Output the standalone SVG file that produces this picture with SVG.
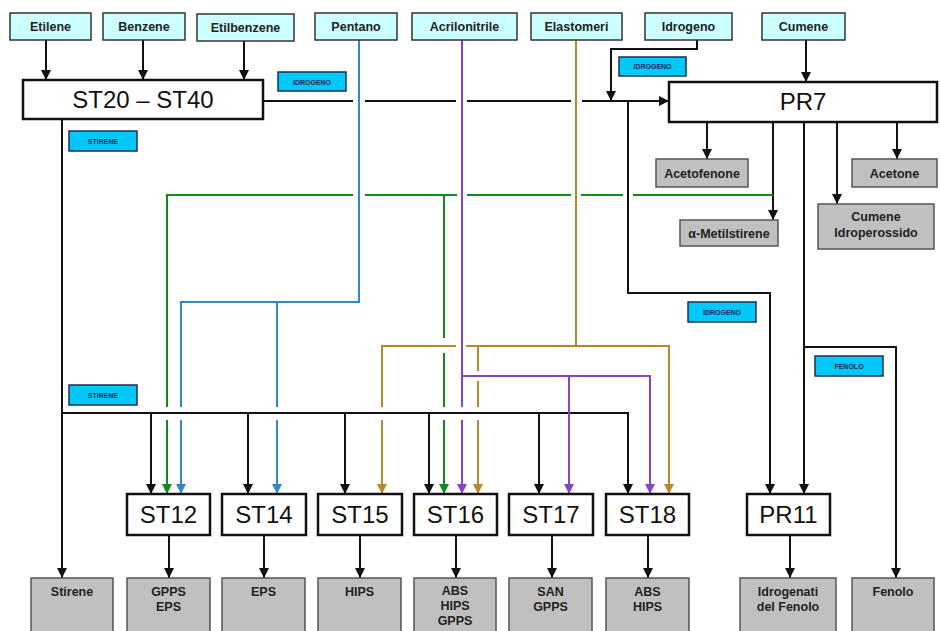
<svg xmlns="http://www.w3.org/2000/svg" width="940" height="631" viewBox="0 0 940 631">
<style>
.in{fill:#ccffff;stroke:#333;stroke-width:1.5}
.main{fill:#fff;stroke:#111;stroke-width:2.5}
.out{fill:#c0c0c0;stroke:#555;stroke-width:1.5}
.lab{fill:#00c8f8;stroke:#1a3050;stroke-width:1.5}
.t{font-family:"Liberation Sans",Arial,sans-serif;text-anchor:middle}
.tin{font-size:12.5px;font-weight:bold;fill:#222}
.tm{font-size:24px;fill:#111}
.tl{font-size:7px;font-weight:bold;fill:#1a2a5a}
.k{fill:none;stroke:#111;stroke-width:2}
.g{fill:none;stroke:#148a1e;stroke-width:2}
.b{fill:none;stroke:#2f88cc;stroke-width:2}
.p{fill:none;stroke:#8645c4;stroke-width:2}
.o{fill:none;stroke:#b8882e;stroke-width:2}
</style>
<defs>
<marker id="ak" viewBox="0 0 10 10" refX="10" refY="5" markerWidth="10" markerHeight="10" markerUnits="userSpaceOnUse" orient="auto"><path d="M0,0 L10,5 L0,10 z" fill="#111"/></marker>
<marker id="ag" viewBox="0 0 10 10" refX="10" refY="5" markerWidth="10" markerHeight="10" markerUnits="userSpaceOnUse" orient="auto"><path d="M0,0 L10,5 L0,10 z" fill="#148a1e"/></marker>
<marker id="ab" viewBox="0 0 10 10" refX="10" refY="5" markerWidth="10" markerHeight="10" markerUnits="userSpaceOnUse" orient="auto"><path d="M0,0 L10,5 L0,10 z" fill="#2f88cc"/></marker>
<marker id="ap" viewBox="0 0 10 10" refX="10" refY="5" markerWidth="10" markerHeight="10" markerUnits="userSpaceOnUse" orient="auto"><path d="M0,0 L10,5 L0,10 z" fill="#8645c4"/></marker>
<marker id="ao" viewBox="0 0 10 10" refX="10" refY="5" markerWidth="10" markerHeight="10" markerUnits="userSpaceOnUse" orient="auto"><path d="M0,0 L10,5 L0,10 z" fill="#b8882e"/></marker>
</defs>
<rect width="940" height="631" fill="#fff"/>

<g id="connectors">
<!-- black -->
<path class="k" marker-end="url(#ak)" d="M46,40 V80"/>
<path class="k" marker-end="url(#ak)" d="M143,40 V80"/>
<path class="k" marker-end="url(#ak)" d="M244,41 V80"/>
<path class="k" d="M263,101 H353 M365,101 H456 M467,101 H571"/>
<path class="k" marker-end="url(#ak)" d="M582,101 H669"/>
<path class="k" marker-end="url(#ak)" d="M697,40 V49 H611 V101"/>
<path class="k" marker-end="url(#ak)" d="M806,40 V82"/>
<path class="k" marker-end="url(#ak)" d="M628,101 V293 H770 V494"/>
<path class="k" marker-end="url(#ak)" d="M707,122 V159"/>
<path class="k" marker-end="url(#ak)" d="M773,122 V220"/>
<path class="k" marker-end="url(#ak)" d="M804,122 V494"/>
<path class="k" marker-end="url(#ak)" d="M837,122 V204"/>
<path class="k" marker-end="url(#ak)" d="M897,122 V159"/>
<path class="k" marker-end="url(#ak)" d="M804,347 H896 V578"/>
<path class="k" marker-end="url(#ak)" d="M62,119 V578"/>
<path class="k" marker-end="url(#ak)" d="M62,413 H628 V494"/>
<path class="k" marker-end="url(#ak)" d="M151,413 V494"/>
<path class="k" marker-end="url(#ak)" d="M248,413 V494"/>
<path class="k" marker-end="url(#ak)" d="M345,413 V494"/>
<path class="k" marker-end="url(#ak)" d="M429,413 V494"/>
<path class="k" marker-end="url(#ak)" d="M539,413 V494"/>
<path class="k" marker-end="url(#ak)" d="M169,535 V578"/>
<path class="k" marker-end="url(#ak)" d="M264,535 V578"/>
<path class="k" marker-end="url(#ak)" d="M360,535 V578"/>
<path class="k" marker-end="url(#ak)" d="M456,535 V578"/>
<path class="k" marker-end="url(#ak)" d="M552,535 V578"/>
<path class="k" marker-end="url(#ak)" d="M648,535 V578"/>
<path class="k" marker-end="url(#ak)" d="M790,535 V578"/>
<!-- green -->
<path class="g" d="M773,195 H633 M623,195 H581 M571,195 H467 M457,195 H365 M353,195 H167 V407"/>
<path class="g" marker-end="url(#ag)" d="M167,420 V494"/>
<path class="g" d="M444,195 V338 M444,353 V407"/>
<path class="g" marker-end="url(#ag)" d="M444,420 V494"/>
<!-- blue -->
<path class="b" d="M359,40 V302 H181 V407 M277,302 V407"/>
<path class="b" marker-end="url(#ab)" d="M181,420 V494"/>
<path class="b" marker-end="url(#ab)" d="M277,420 V494"/>
<!-- purple -->
<path class="p" d="M462,40 V407"/>
<path class="p" marker-end="url(#ap)" d="M462,420 V494"/>
<path class="p" marker-end="url(#ap)" d="M462,376 H650 V494"/>
<path class="p" marker-end="url(#ap)" d="M569,376 V494"/>
<!-- gold -->
<path class="o" d="M576,40 V346"/>
<path class="o" d="M456,346 H382 V407"/>
<path class="o" marker-end="url(#ao)" d="M382,420 V494"/>
<path class="o" marker-end="url(#ao)" d="M466,346 H669 V494"/>
<path class="o" d="M478,346 V371 M478,381 V407"/>
<path class="o" marker-end="url(#ao)" d="M478,420 V494"/>
</g>

<g id="labels">
<g id="lab-idrogeno1"><rect class="lab" x="278" y="72" width="68" height="19"/><text class="t tl" x="312" y="84.5">IDROGENO</text></g>
<g id="lab-stirene1"><rect class="lab" x="69" y="131" width="68" height="20"/><text class="t tl" x="103" y="143.5">STIRENE</text></g>
<g id="lab-idrogeno2"><rect class="lab" x="619" y="57" width="67" height="19"/><text class="t tl" x="652.5" y="69">IDROGENO</text></g>
<g id="lab-stirene2"><rect class="lab" x="69" y="385" width="68" height="20"/><text class="t tl" x="103" y="397.5">STIRENE</text></g>
<g id="lab-idrogeno3"><rect class="lab" x="688" y="302" width="68" height="20"/><text class="t tl" x="722" y="314.5">IDROGENO</text></g>
<g id="lab-fenolo"><rect class="lab" x="815" y="356" width="68" height="20"/><text class="t tl" x="849" y="368.5">FENOLO</text></g>
</g>

<g id="n-etilene"><rect class="in" x="10" y="13" width="81" height="27"/><text class="t tin" x="50.5" y="31">Etilene</text></g>
<g id="n-benzene"><rect class="in" x="103" y="13" width="82" height="27"/><text class="t tin" x="144" y="31">Benzene</text></g>
<g id="n-etilbenzene"><rect class="in" x="197" y="14" width="97" height="27"/><text class="t tin" x="245.5" y="32">Etilbenzene</text></g>
<g id="n-pentano"><rect class="in" x="315" y="13" width="82" height="27"/><text class="t tin" x="356" y="31">Pentano</text></g>
<g id="n-acrilonitrile"><rect class="in" x="412" y="13" width="105" height="27"/><text class="t tin" x="464.5" y="31">Acrilonitrile</text></g>
<g id="n-elastomeri"><rect class="in" x="531" y="13" width="91" height="27"/><text class="t tin" x="576.5" y="31">Elastomeri</text></g>
<g id="n-idrogeno"><rect class="in" x="645" y="13" width="87" height="27"/><text class="t tin" x="688.5" y="31">Idrogeno</text></g>
<g id="n-cumene"><rect class="in" x="762" y="13" width="83" height="27"/><text class="t tin" x="803.5" y="31">Cumene</text></g>

<g id="n-st20"><rect class="main" x="23" y="80" width="240" height="39"/><text class="t tm" x="143" y="108">ST20 – ST40</text></g>
<g id="n-pr7"><rect class="main" x="669" y="82" width="268" height="40"/><text class="t tm" x="803" y="110">PR7</text></g>

<g id="n-acetofenone"><rect class="out" x="656" y="159" width="92" height="28"/><text class="t tin" x="702" y="178">Acetofenone</text></g>
<g id="n-acetone"><rect class="out" x="852" y="159" width="85" height="28"/><text class="t tin" x="894.5" y="178">Acetone</text></g>
<g id="n-ams"><rect class="out" x="680" y="220" width="98" height="26"/><text class="t tin" x="729" y="238">α-Metilstirene</text></g>
<g id="n-cip"><rect class="out" x="818" y="204" width="116" height="45"/><text class="t tin" x="876" y="221">Cumene</text><text class="t tin" x="876" y="237">Idroperossido</text></g>

<g id="n-st12"><rect class="main" x="127" y="494" width="83" height="41"/><text class="t tm" x="168.5" y="523">ST12</text></g>
<g id="n-st14"><rect class="main" x="222" y="494" width="84" height="41"/><text class="t tm" x="264" y="523">ST14</text></g>
<g id="n-st15"><rect class="main" x="318" y="494" width="84" height="41"/><text class="t tm" x="360" y="523">ST15</text></g>
<g id="n-st16"><rect class="main" x="414" y="494" width="83" height="41"/><text class="t tm" x="455.5" y="523">ST16</text></g>
<g id="n-st17"><rect class="main" x="509" y="494" width="84" height="41"/><text class="t tm" x="551" y="523">ST17</text></g>
<g id="n-st18"><rect class="main" x="606" y="494" width="83" height="41"/><text class="t tm" x="647.5" y="523">ST18</text></g>
<g id="n-pr11"><rect class="main" x="747" y="494" width="83" height="41"/><text class="t tm" x="788.5" y="523">PR11</text></g>

<g id="o-stirene"><rect class="out" x="31" y="578" width="82" height="60"/><text class="t tin" x="72" y="596">Stirene</text></g>
<g id="o-st12"><rect class="out" x="127" y="578" width="83" height="60"/><text class="t tin" x="168.5" y="596">GPPS</text><text class="t tin" x="168.5" y="611">EPS</text></g>
<g id="o-st14"><rect class="out" x="222" y="578" width="83" height="60"/><text class="t tin" x="263.5" y="596">EPS</text></g>
<g id="o-st15"><rect class="out" x="318" y="578" width="83" height="60"/><text class="t tin" x="359.5" y="596">HIPS</text></g>
<g id="o-st16"><rect class="out" x="414" y="578" width="82" height="60"/><text class="t tin" x="455" y="595">ABS</text><text class="t tin" x="455" y="610">HIPS</text><text class="t tin" x="455" y="625">GPPS</text></g>
<g id="o-st17"><rect class="out" x="509" y="578" width="83" height="60"/><text class="t tin" x="550.5" y="596">SAN</text><text class="t tin" x="550.5" y="611">GPPS</text></g>
<g id="o-st18"><rect class="out" x="606" y="578" width="83" height="60"/><text class="t tin" x="647.5" y="596">ABS</text><text class="t tin" x="647.5" y="611">HIPS</text></g>
<g id="o-pr11"><rect class="out" x="740" y="578" width="96" height="60"/><text class="t tin" x="788" y="596">Idrogenati</text><text class="t tin" x="788" y="611">del Fenolo</text></g>
<g id="o-fenolo"><rect class="out" x="852" y="578" width="82" height="60"/><text class="t tin" x="893" y="596">Fenolo</text></g>
</svg>
